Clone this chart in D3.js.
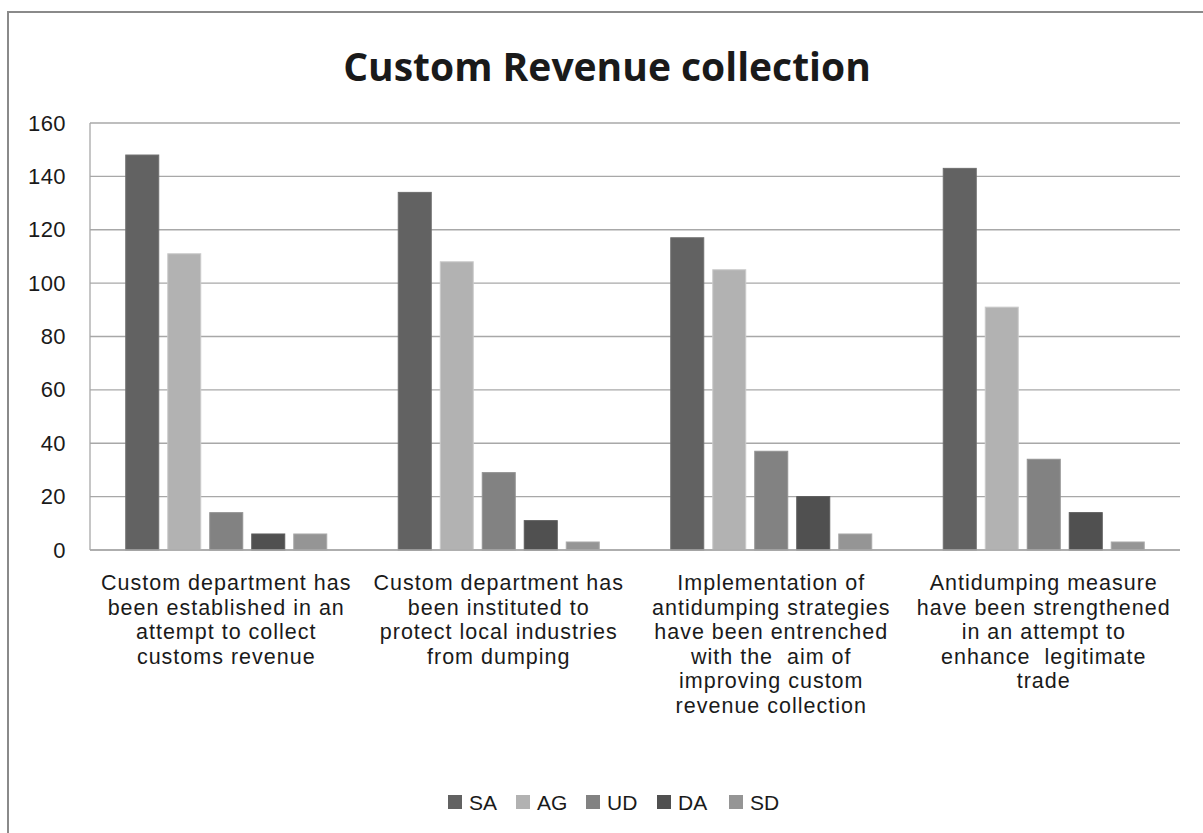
<!DOCTYPE html>
<html>
<head>
<meta charset="utf-8">
<script src="https://cdn.jsdelivr.net/npm/d3@7"></script>
<style>
  html, body { margin: 0; padding: 0; background: #fff; }
  svg { display: block; }
  text { font-family: "Liberation Sans", Arial, sans-serif; fill: #1a1a1a; }
</style>
</head>
<body>
<svg id="chart" width="1203" height="833"></svg>
<script>
// Survey responses per statement
const categories = [
  ["Custom department has", "been established in an", "attempt to collect", "customs revenue"],
  ["Custom department has", "been instituted to", "protect local industries", "from dumping"],
  ["Implementation of", "antidumping strategies", "have been entrenched", "with the  aim of", "improving custom", "revenue collection"],
  ["Antidumping measure", "have been strengthened", "in an attempt to", "enhance  legitimate", "trade"]
];
const seriesNames = ["SA", "AG", "UD", "DA", "SD"];
const seriesColors = ["#626262", "#b2b2b2", "#828282", "#505050", "#959595"];
const SA = [148, 134, 117, 143];
const AG = [111, 108, 105, 91];
const UD = [14, 29, 37, 34];
const DA = [6, 11, 20, 14];
const SD = [6, 3, 6, 3];
const yTicks = [0, 20, 40, 60, 80, 100, 120, 140, 160];
const title = "Custom Revenue collection";

const seriesValues = [SA, AG, UD, DA, SD];

const svg = d3.select("#chart");

// outer chart frame
svg.append("rect")
  .attr("x", 8).attr("y", 12)
  .attr("width", 1240).attr("height", 880)
  .attr("fill", "none")
  .attr("stroke", "#8a8a8a")
  .attr("stroke-width", 2);

const plot = { left: 90, right: 1180, top: 123, bottom: 550 };

const y = d3.scaleLinear().domain([0, 160]).range([plot.bottom, plot.top]);
const catIdx = categories.map((d, i) => i);
const x0 = d3.scaleBand().domain(catIdx).range([plot.left, plot.right]);
const groupW = 210;
const x1 = d3.scaleBand().domain(seriesNames).range([0, groupW])
  .paddingInner(9 / 42).paddingOuter(4.5 / 42);

// gridlines
svg.append("g")
  .selectAll("line")
  .data(yTicks)
  .join("line")
  .attr("x1", plot.left).attr("x2", plot.right)
  .attr("y1", d => y(d)).attr("y2", d => y(d))
  .attr("stroke", "#a8a8a8")
  .attr("stroke-width", 1.3);

// vertical axis line
svg.append("line")
  .attr("x1", plot.left).attr("x2", plot.left)
  .attr("y1", plot.top).attr("y2", plot.bottom)
  .attr("stroke", "#a8a8a8").attr("stroke-width", 1.3);

// y axis labels
const yAxis = d3.axisLeft(y).tickValues(yTicks).tickSize(0).tickPadding(24);
const yg = svg.append("g").attr("transform", `translate(${plot.left},0)`).call(yAxis);
yg.select(".domain").remove();
yg.selectAll("text")
  .style("font-family", '"Liberation Sans", Arial, sans-serif')
  .style("font-size", "22px")
  .style("letter-spacing", "0.4px")
  .attr("fill", "#1a1a1a");

// bars
const groups = svg.append("g")
  .selectAll("g")
  .data(catIdx)
  .join("g")
  .attr("transform", i => `translate(${x0(i) + (x0.bandwidth() - groupW) / 2},0)`);

groups.selectAll("rect")
  .data(i => seriesNames.map((s, k) => ({ s, k, v: seriesValues[k][i] })))
  .join("rect")
  .attr("x", d => x1(d.s))
  .attr("width", x1.bandwidth())
  .attr("y", d => y(d.v))
  .attr("height", d => y(0) - y(d.v))
  .attr("fill", d => seriesColors[d.k])
  .attr("stroke", d => d3.color(seriesColors[d.k]).brighter(0.35))
  .attr("stroke-width", 1);

// baseline
svg.append("line")
  .attr("x1", plot.left).attr("x2", plot.right)
  .attr("y1", y(0)).attr("y2", y(0))
  .attr("stroke", "#a8a8a8").attr("stroke-width", 1.3);

// category labels, one text per wrapped line
const labelRows = catIdx.flatMap(i => categories[i].map((t, j) => ({ t, i, j })));
svg.append("g")
  .selectAll("text")
  .data(labelRows)
  .join("text")
  .attr("text-anchor", "middle")
  .attr("x", d => x0(d.i) + x0.bandwidth() / 2)
  .attr("y", d => 590 + d.j * 24.6)
  .attr("xml:space", "preserve")
  .style("white-space", "pre")
  .style("font-size", "21.5px")
  .style("letter-spacing", "1px")
  .text(d => d.t);

// title
svg.append("text")
  .attr("x", 607)
  .attr("y", 81)
  .attr("text-anchor", "middle")
  .style("font-family", '"Open Sans", sans-serif')
  .style("font-size", "39px")
  .style("font-weight", "bold")
  .attr("fill", "#000")
  .text(title);

// legend
const legendX = [448, 516, 586, 657, 729];
const legend = svg.append("g")
  .selectAll("g")
  .data(seriesNames)
  .join("g")
  .attr("transform", (d, k) => `translate(${legendX[k]},795)`);
legend.append("rect")
  .attr("width", 14).attr("height", 14)
  .attr("fill", (d, k) => seriesColors[k]);
legend.append("text")
  .attr("x", 21).attr("y", 14.5)
  .style("font-size", "21px")
  .text(d => d);
</script>
</body>
</html>
